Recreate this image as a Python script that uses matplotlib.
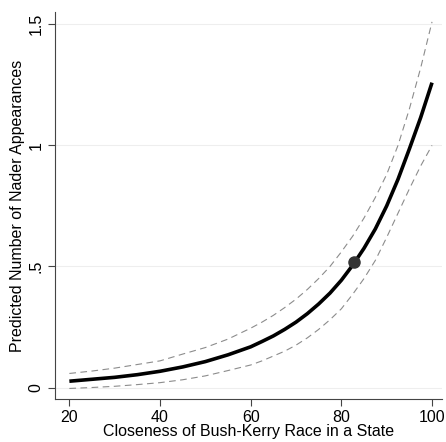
import numpy as np
import matplotlib
matplotlib.use("Agg")
import matplotlib.pyplot as plt

plt.rcParams['font.family'] = ['Liberation Sans', 'DejaVu Sans']

# values
closeness = [20, 25, 30, 35, 40, 45, 50, 55, 60, 62.5, 65, 67.5, 70, 72.5, 75,
             77.5, 80, 82.5, 85, 87.5, 90, 92.5, 95, 97.5, 100]
pred = [0.026, 0.034, 0.042, 0.053, 0.067, 0.085, 0.107, 0.135, 0.168, 0.19,
        0.213, 0.24, 0.27, 0.305, 0.345, 0.39, 0.443, 0.505, 0.575, 0.655,
        0.75, 0.86, 0.985, 1.115, 1.259]
upper = [0.058, 0.068, 0.08, 0.095, 0.11, 0.138, 0.165, 0.2, 0.245, 0.27,
         0.298, 0.33, 0.365, 0.405, 0.45, 0.50, 0.56, 0.625, 0.70, 0.785,
         0.88, 1.0, 1.15, 1.32, 1.51]
lower = [-0.004, 0.0, 0.005, 0.012, 0.02, 0.032, 0.048, 0.07, 0.093, 0.11,
         0.13, 0.15, 0.175, 0.205, 0.24, 0.28, 0.325, 0.385, 0.45, 0.525,
         0.62, 0.72, 0.82, 0.915, 1.0]
point_x = [82.9]
point_y = [0.517]

xticks = [20, 40, 60, 80, 100]
yticks = [0, 0.5, 1, 1.5]
ylabels = ['0', '.5', '1', '1.5']

fig = plt.figure(figsize=(4.46, 4.42), dpi=100)
ax = fig.add_axes([0.123, 0.097, 0.868, 0.876])

for yv in yticks:
    ax.axhline(yv, color='#eeeeee', lw=0.8, zorder=0)

ax.plot(closeness, upper, color='#8c8c8c', lw=0.8, ls=(0, (6, 4)))
ax.plot(closeness, lower, color='#8c8c8c', lw=0.8, ls=(0, (6, 4)))
ax.plot(closeness, pred, color='black', lw=2.6, solid_capstyle='butt',
        solid_joinstyle='round')
ax.plot(point_x, point_y, 'o', color='#333333', ms=8, zorder=5)

ax.set_xlim(16.8, 102.2)
ax.set_ylim(-0.048, 1.551)
ax.set_xticks(xticks)
ax.set_yticks(yticks)
ax.set_yticklabels(ylabels, rotation=90, va='center')
ax.tick_params(labelsize=11.5, length=5, width=0.8, color='#444444', pad=3)

for s in ['top', 'right']:
    ax.spines[s].set_visible(False)
for s in ['left', 'bottom']:
    ax.spines[s].set_color('#444444')
    ax.spines[s].set_linewidth(0.8)

ax.set_xlabel('Closeness of Bush-Kerry Race in a State', fontsize=11.5, labelpad=-1)
ax.set_ylabel('Predicted Number of Nader Appearances', fontsize=11.5, labelpad=3)

fig.savefig('out.png', dpi=100)
